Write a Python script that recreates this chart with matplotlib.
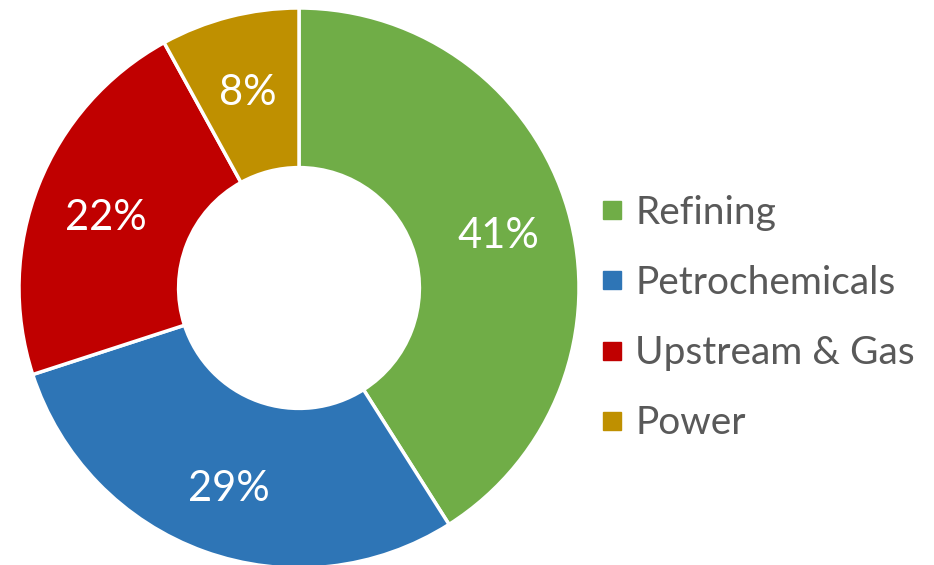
import matplotlib
matplotlib.use('Agg')
import matplotlib.pyplot as plt
from matplotlib.lines import Line2D
from matplotlib.transforms import offset_copy

plt.rcParams['font.family'] = ['Lato', 'DejaVu Sans']

# data
labels = ['Refining', 'Petrochemicals', 'Upstream & Gas', 'Power']
shares = [41, 29, 22, 8]
colors = ['#70AD47', '#2E75B6', '#C00000', '#BF9000']

fig = plt.figure(figsize=(9.34, 5.65), dpi=100)
# pie centre ~ (299, 288) px, radius ~ 280 px
ax = fig.add_axes([19 / 934, -3 / 565, 560 / 934, 560 / 565])
wedges, texts, autotexts = ax.pie(
    shares, colors=colors, startangle=90, counterclock=False,
    radius=1.0, autopct='%d%%', pctdistance=0.74,
    wedgeprops=dict(width=0.57, edgecolor='white', linewidth=2.5),
    textprops=dict(color='white', fontsize=30))
# labels sit a little lower in the original
for t in autotexts:
    t.set_transform(offset_copy(ax.transData, fig=fig, x=0, y=-6, units='dots'))
ax.set_xlim(-1, 1)
ax.set_ylim(-1, 1)
ax.set_aspect('equal')
ax.axis('off')

handles = [Line2D([], [], marker='s', linestyle='none', markersize=12.5,
                  markerfacecolor=c, markeredgecolor=c) for c in colors]
fig.legend(handles, labels, loc='center left',
           bbox_to_anchor=(600 / 934, 1 - 318 / 565), frameon=False,
           fontsize=28, labelcolor='#595959', handletextpad=0.31,
           labelspacing=0.88, handlelength=0.6, borderpad=0, borderaxespad=0)

fig.savefig('out.png', dpi=100)
